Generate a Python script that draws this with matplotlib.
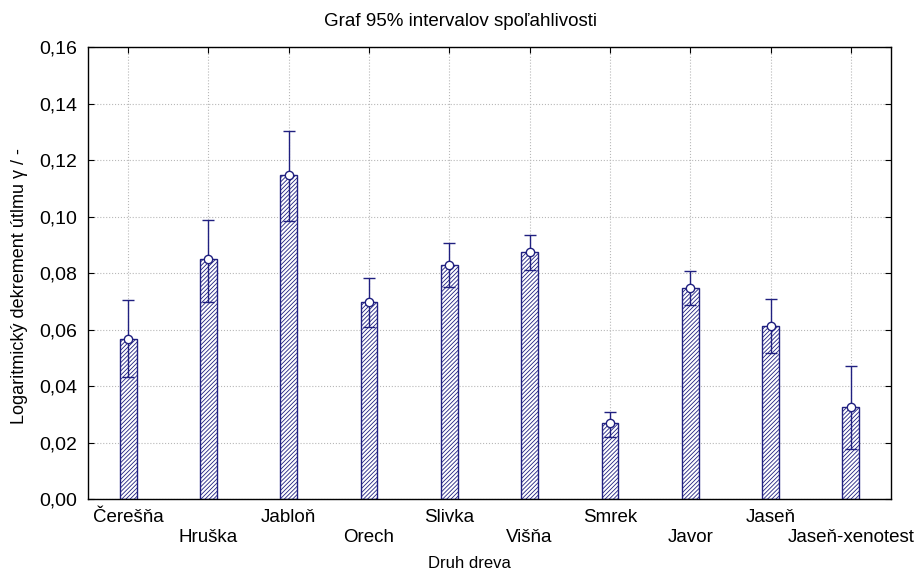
import matplotlib
matplotlib.use("Agg")
import matplotlib.pyplot as plt
import numpy as np
from matplotlib.ticker import FuncFormatter

categories = ["Čerešňa", "Hruška", "Jabloň", "Orech", "Slivka", "Višňa",
              "Smrek", "Javor", "Jaseň", "Jaseň-xenotest"]
means = [0.0566, 0.0850, 0.1147, 0.0697, 0.0828, 0.0874, 0.0268, 0.0747, 0.0612, 0.0327]
upper = [0.0704, 0.0988, 0.1303, 0.0782, 0.0906, 0.0935, 0.0309, 0.0807, 0.0708, 0.0471]
lower = [0.0432, 0.0697, 0.0984, 0.0609, 0.0750, 0.0810, 0.0218, 0.0687, 0.0517, 0.0177]
yticks = [0.00, 0.02, 0.04, 0.06, 0.08, 0.10, 0.12, 0.14, 0.16]

plt.rcParams['font.family'] = ['Liberation Sans', 'DejaVu Sans']
plt.rcParams['hatch.linewidth'] = 0.6

navy = '#202080'
fig = plt.figure(figsize=(9.19, 5.69), dpi=100)
ax = fig.add_axes([0.0958, 0.123, 0.8737, 0.7944])

x = np.arange(len(categories)) + 0.5
means_a = np.array(means)
err = np.vstack([means_a - np.array(lower), np.array(upper) - means_a])

ax.bar(x, means, width=0.21, facecolor='white', edgecolor=navy, hatch='////////',
       linewidth=1.0, zorder=2)
ax.errorbar(x, means, yerr=err, fmt='none', ecolor=navy, elinewidth=1.0,
            capsize=4, capthick=1.0, zorder=3)
ax.plot(x, means, linestyle='none', marker='o', markersize=6,
        markerfacecolor='white', markeredgecolor=navy, markeredgewidth=1.0, zorder=4)

ax.set_xlim(0, 10)
ax.set_ylim(0, 0.16)
ax.set_yticks(yticks)
ax.yaxis.set_major_formatter(FuncFormatter(lambda v, p: f"{v:.2f}".replace('.', ',')))
ax.set_xticks(x)
ax.set_xticklabels([])
for i, (xi, lab) in enumerate(zip(x, categories)):
    off = -13 if i % 2 == 0 else -27.5
    ax.annotate(lab, xy=(xi, 0), xycoords=('data', 'axes fraction'),
                xytext=(0, off), textcoords='offset points',
                ha='center', va='center', fontsize=13.5, annotation_clip=False)

ax.tick_params(direction='in', top=True, right=True, length=4)
ax.tick_params(axis='y', labelsize=14, pad=8)
ax.grid(True, linestyle=':', color='#b8b8b8', linewidth=0.8, zorder=0)
ax.set_axisbelow(True)

fig.text(460 / 919, 1 - 22 / 569, "Graf 95% intervalov spoľahlivosti",
         ha='center', va='center', fontsize=13.5)
fig.text(469 / 919, 1 - 563 / 569, "Druh dreva", ha='center', va='center',
         fontsize=12)
fig.text(20 / 919, 1 - 286 / 569, "Logaritmický dekrement útlmu γ / -",
         ha='center', va='center', rotation=90, fontsize=13)
for s in ax.spines.values():
    s.set_linewidth(1.0)

fig.savefig("out.png", dpi=100)
